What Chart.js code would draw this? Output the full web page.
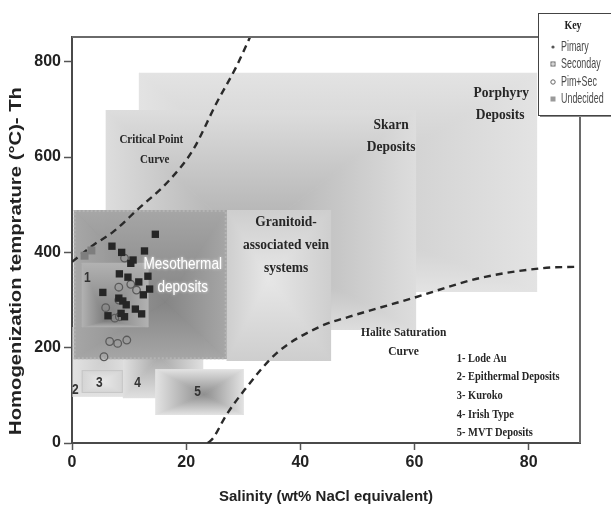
<!DOCTYPE html>
<html><head><meta charset="utf-8">
<script src="https://cdn.jsdelivr.net/npm/chart.js@4/dist/chart.umd.min.js"></script>
<style>html,body{margin:0;padding:0;background:#fff;overflow:hidden}#w{width:611px;height:511px;position:relative}</style>
</head><body><div id="w"><canvas id="c" width="611" height="511"></canvas></div>
<script>
// ---- axis ticks ----
const xTicks = [0, 20, 40, 60, 80];
const yTicks = [0, 200, 400, 600, 800];

// ---- deposit fields (salinity wt% NaCl, Th °C) ----
const depositNames = ['Porphyry', 'Skarn', 'Granitoid', 'Epithermal', 'Irish', 'Kuroko', 'Mesothermal', 'LodeAu', 'MVT'];
const salMin = [11.7, 5.9, 27.1, 0.1, 8.9, 1.7, 0.3, 1.7, 14.6];
const salMax = [81.5, 60.3, 45.4, 10.4, 23.0, 8.9, 27.1, 13.4, 30.1];
const thMin  = [317, 237, 172, 97, 94, 105, 176, 243, 59];
const thMax  = [777, 699, 489, 243, 241, 153, 489, 378, 155];

// ---- curves ----
const criticalSal = [0, 3.7, 7.2, 11.4, 17.1, 21.2, 25.3, 28.8, 31.2];
const criticalTh  = [380, 415, 443, 489, 552, 615, 713, 790, 852];
const haliteSal = [23.8, 24.7, 27, 30.2, 35.8, 43.4, 48.6, 59.7, 71.4, 82.5, 89];
const haliteTh  = [0, 10, 58, 111, 188, 244, 265, 304, 346, 367, 370];

// ---- fluid inclusion data ----
const primarySal = [14.6, 7.0, 8.7, 12.7, 10.3, 10.7, 8.3, 9.8, 13.3, 11.7, 12.5, 13.6, 5.4, 11.1, 12.2, 8.2, 8.9, 9.5, 9.2, 8.6, 6.3];
const primaryTh  = [438, 413, 400, 403, 377, 384, 355, 348, 350, 338, 311, 323, 316, 281, 271, 304, 298, 290, 265, 272, 267];
const primSecSal = [9.2, 8.2, 10.3, 11.3, 5.9, 8.2, 7.5, 8.3, 6.6, 8.0, 9.6, 5.6];
const primSecTh  = [388, 327, 333, 321, 284, 300, 262, 265, 213, 209, 216, 181];
const undecidedSal = [2.2, 3.4];
const undecidedTh  = [393, 404];

// ---- legend & annotation text ----
const legendTitle = 'Key';
const legendLabels = ['Pimary', 'Seconday', 'Pim+Sec', 'Undecided'];
const typeList = ['1- Lode Au', '2- Epithermal Deposits', '3- Kuroko', '4- Irish Type', '5- MVT Deposits'];

const zip = (a, b) => a.map((v, i) => ({x: v, y: b[i]}));

const boxStyle = {
  Porphyry:   {edge:'#e3e3e3', center:'#c6c6c6', fx:0.42, fy:0.62},
  Skarn:      {edge:'#dddddd', center:'#acacac', fx:0.45, fy:0.6},
  Granitoid:  {edge:'#cecece', center:'#e7e7e7', fx:0.4, fy:0.45},
  Epithermal: {edge:'#e2e2e2', center:'#cfcfcf', fx:0.5, fy:0.5},
  Irish:      {edge:'#e0e0e0', center:'#a8a8a8', fx:0.45, fy:0.4},
  Kuroko:     {edge:'#d4d4d4', center:'#e8e8e8', fx:0.5, fy:0.5, border:'#c6c6c6'},
  Mesothermal:{edge:'#a6a6a6', center:'#828282', fx:0.6, fy:0.62, alpha:0.92},
  LodeAu:     {edge:'#b2b2b2', center:'#7c7c7c', fx:0.35, fy:0.9},
  MVT:        {edge:'#e3e3e3', center:'#8e8e8e', fx:0.55, fy:0.55}
};

function pyramid(ctx, x0, y0, x1, y1, st) {
  const cx = x0 + (x1 - x0) * st.fx, cy = y0 + (y1 - y0) * st.fy;
  ctx.save();
  ctx.globalAlpha = st.alpha || 1;
  ctx.beginPath(); ctx.rect(x0, y0, x1 - x0, y1 - y0); ctx.clip();
  ctx.fillStyle = st.edge; ctx.fillRect(x0, y0, x1 - x0, y1 - y0);
  const tri = (p, gx0, gy0, gx1, gy1) => {
    const g = ctx.createLinearGradient(gx0, gy0, gx1, gy1);
    g.addColorStop(0, st.edge); g.addColorStop(1, st.center);
    ctx.fillStyle = g; ctx.strokeStyle = g; ctx.lineWidth = 0.7;
    ctx.beginPath(); ctx.moveTo(p[0][0], p[0][1]); ctx.lineTo(p[1][0], p[1][1]); ctx.lineTo(p[2][0], p[2][1]); ctx.closePath();
    ctx.fill(); ctx.stroke();
  };
  tri([[x0, y0], [x1, y0], [cx, cy]], 0, y0, 0, cy);
  tri([[x0, y1], [x1, y1], [cx, cy]], 0, y1, 0, cy);
  tri([[x0, y0], [x0, y1], [cx, cy]], x0, 0, cx, 0);
  tri([[x1, y0], [x1, y1], [cx, cy]], x1, 0, cx, 0);
  ctx.restore();
}

function txt(ctx, s, x, y, font, color, align, sx, sy) {
  ctx.save();
  ctx.translate(x, y); ctx.scale(sx || 1, sy || 1);
  ctx.font = font; ctx.fillStyle = color; ctx.textAlign = align || 'center'; ctx.textBaseline = 'middle';
  ctx.fillText(s, 0, 0);
  ctx.restore();
}

const serifB = (px) => 'bold ' + px + 'px "Liberation Serif", "DejaVu Serif", serif';
const sansB = (px) => 'bold ' + px + 'px "Liberation Sans", Arial, sans-serif';
const sans = (px) => px + 'px "Liberation Sans", Arial, sans-serif';

// annotation positions in data units
const labelSpecs = [
  {t:'Critical Point', x:13.9, y:636, f:serifB(11), sy:1.15},
  {t:'Curve', x:14.5, y:594, f:serifB(11), sy:1.15},
  {t:'Skarn', x:55.9, y:667, f:serifB(13.5), sy:1.15},
  {t:'Deposits', x:55.9, y:622, f:serifB(13.5), sy:1.15},
  {t:'Porphyry', x:75.2, y:734, f:serifB(13.5), sy:1.15},
  {t:'Deposits', x:75.0, y:688, f:serifB(13.5), sy:1.15},
  {t:'Granitoid-', x:37.5, y:464, f:serifB(13.5), sy:1.15},
  {t:'associated vein', x:37.5, y:415, f:serifB(13.5), sy:1.15},
  {t:'systems', x:37.5, y:367, f:serifB(13.5), sy:1.15},
  {t:'Halite Saturation', x:58.1, y:231, f:serifB(11.5), sy:1.15},
  {t:'Curve', x:58.1, y:191, f:serifB(11.5), sy:1.15},
  {t:'1', x:2.7, y:346, f:sansB(12), sy:1.2, c:'#333'},
  {t:'2', x:0.6, y:111, f:sansB(12), sy:1.2, c:'#333'},
  {t:'3', x:4.8, y:126, f:sansB(12), sy:1.2, c:'#333'},
  {t:'4', x:11.5, y:126, f:sansB(12), sy:1.2, c:'#333'},
  {t:'5', x:22.0, y:107, f:sansB(12), sy:1.2, c:'#333'}
];
const listY = [178, 139, 99, 59, 21];

const drawPlugin = {
  id: 'fields',
  beforeDatasetsDraw(chart) {
    const ctx = chart.ctx, xs = chart.scales.x, ys = chart.scales.y, a = chart.chartArea;
    ctx.save();
    ctx.beginPath(); ctx.rect(a.left, a.top, a.right - a.left, a.bottom - a.top); ctx.clip();
    depositNames.forEach((n, i) => {
      const x0 = xs.getPixelForValue(salMin[i]), x1 = xs.getPixelForValue(salMax[i]);
      const y0 = ys.getPixelForValue(thMax[i]), y1 = ys.getPixelForValue(thMin[i]);
      const st = boxStyle[n];
      pyramid(ctx, x0, y0, x1, y1, st);
      if (st.border) { ctx.strokeStyle = st.border; ctx.lineWidth = 1; ctx.strokeRect(x0 + 0.5, y0 + 0.5, x1 - x0 - 1, y1 - y0 - 1); }
    });
    const m = depositNames.indexOf('Mesothermal');
    const mx0 = xs.getPixelForValue(salMin[m]), mx1 = xs.getPixelForValue(salMax[m]);
    const my0 = ys.getPixelForValue(thMax[m]), my1 = ys.getPixelForValue(thMin[m]);
    ctx.strokeStyle = '#b4b4b4'; ctx.lineWidth = 2; ctx.setLineDash([2, 2]);
    ctx.strokeRect(mx0 + 1, my0 + 1, mx1 - mx0 - 2, my1 - my0 - 2);
    ctx.setLineDash([]);
    ctx.restore();
  },
  afterDatasetsDraw(chart) {
    const ctx = chart.ctx, xs = chart.scales.x, ys = chart.scales.y, a = chart.chartArea;
    labelSpecs.forEach(s => txt(ctx, s.t, xs.getPixelForValue(s.x), ys.getPixelForValue(s.y), s.f, s.c || '#262626', 'center', s.sx || 1, s.sy || 1));
    ctx.save(); ctx.shadowColor = 'rgba(255,255,255,0.8)'; ctx.shadowBlur = 3;
    txt(ctx, 'Mesothermal', xs.getPixelForValue(19.4), ys.getPixelForValue(374), sans(14), '#ffffff', 'center', 0.97, 1.2);
    txt(ctx, 'deposits', xs.getPixelForValue(19.4), ys.getPixelForValue(327), sans(14), '#ffffff', 'center', 0.97, 1.2);
    ctx.restore();
    typeList.forEach((t, i) => txt(ctx, t, xs.getPixelForValue(67.4), ys.getPixelForValue(listY[i]), serifB(11), '#262626', 'left', 0.95, 1.2));
    ctx.save();
    ctx.strokeStyle = '#6a6a6a'; ctx.lineWidth = 2;
    ctx.beginPath(); ctx.moveTo(a.left, a.top); ctx.lineTo(a.right, a.top); ctx.moveTo(a.right, a.top); ctx.lineTo(a.right, a.bottom); ctx.stroke();
    ctx.restore();
    const lx = 538, ly = 13, lw = 80, lh = 102;
    ctx.save();
    ctx.fillStyle = '#8a8a8a'; ctx.fillRect(lx + 2, ly + 2, lw, lh);
    ctx.fillStyle = '#ffffff'; ctx.fillRect(lx, ly, lw, lh);
    ctx.strokeStyle = '#444'; ctx.lineWidth = 1; ctx.strokeRect(lx + 0.5, ly + 0.5, lw, lh);
    txt(ctx, legendTitle, 573, 26, serifB(10), '#222', 'center', 1, 1.2);
    const rowY = [47, 64, 82, 99];
    legendLabels.forEach((l, i) => {
      const y = rowY[i], mx = 553;
      ctx.fillStyle = '#555'; ctx.strokeStyle = '#666'; ctx.lineWidth = 1;
      if (i === 0) { ctx.beginPath(); ctx.arc(mx, y, 1.6, 0, Math.PI * 2); ctx.fill(); }
      else if (i === 1) { ctx.strokeRect(mx - 2, y - 2, 4, 4); ctx.fillRect(mx - 0.5, y - 0.5, 1, 1); }
      else if (i === 2) { ctx.beginPath(); ctx.arc(mx, y, 2.2, 0, Math.PI * 2); ctx.stroke(); }
      else { ctx.fillStyle = '#9a9a9a'; ctx.fillRect(mx - 2.5, y - 2.5, 5, 5); }
      txt(ctx, l, 561, y, sans(10.5), '#4a4a4a', 'left', 0.85, 1.35);
    });
    ctx.restore();
    ctx.save();
    ctx.translate(17, 261); ctx.rotate(-Math.PI / 2);
    ctx.font = sansB(16); ctx.fillStyle = '#222'; ctx.textAlign = 'center'; ctx.textBaseline = 'middle';
    const yt = 'Homogenization temprature (\u00B0C)- Th';
    const w = ctx.measureText(yt).width;
    ctx.scale(348 / w, 1);
    ctx.fillText(yt, 0, 0);
    ctx.restore();
  }
};

new Chart(document.getElementById('c'), {
  type: 'scatter',
  data: {
    datasets: [
      {label: 'Pimary', data: zip(primarySal, primaryTh), pointStyle: 'rect', pointRadius: 5.2, backgroundColor: '#262626', borderColor: '#262626', borderWidth: 0, order: 1},
      {label: 'Pim+Sec', data: zip(primSecSal, primSecTh), pointStyle: 'circle', pointRadius: 3.8, backgroundColor: 'rgba(0,0,0,0)', borderColor: '#5a5a5a', borderWidth: 1.3, order: 2},
      {label: 'Undecided', data: zip(undecidedSal, undecidedTh), pointStyle: 'rect', pointRadius: 5.6, backgroundColor: '#7e7e7e', borderColor: '#7e7e7e', borderWidth: 0, order: 3},
      {label: 'Critical Point Curve', type: 'line', data: zip(criticalSal, criticalTh), borderColor: '#2a2a2a', borderWidth: 2.4, borderDash: [7, 5], pointRadius: 0, fill: false, cubicInterpolationMode: 'monotone', order: 4},
      {label: 'Halite Saturation Curve', type: 'line', data: zip(haliteSal, haliteTh), borderColor: '#2a2a2a', borderWidth: 2.4, borderDash: [7, 5], pointRadius: 0, fill: false, cubicInterpolationMode: 'monotone', order: 5}
    ]
  },
  options: {
    responsive: false, animation: false, devicePixelRatio: 1,
    layout: {padding: {top: 37, right: 31, left: 0, bottom: 0}},
    plugins: {legend: {display: false}, tooltip: {enabled: false}},
    scales: {
      x: {
        type: 'linear', min: 0, max: 89, position: 'bottom',
        afterBuildTicks: s => { s.ticks = xTicks.map(v => ({value: v})); },
        afterFit: s => { s.height = 68; },
        grid: {drawOnChartArea: false, drawTicks: true, tickLength: 7, color: '#555', tickWidth: 1.5},
        border: {display: true, color: '#4a4a4a', width: 2},
        ticks: {font: {family: '"Liberation Sans", Arial, sans-serif', weight: 'bold', size: 16}, color: '#222', padding: 3, maxRotation: 0},
        title: {display: true, text: 'Salinity (wt% NaCl equivalent)', font: {family: '"Liberation Sans", Arial, sans-serif', weight: 'bold', size: 15}, color: '#222', padding: {top: 0, bottom: 5}}
      },
      y: {
        type: 'linear', min: 0, max: 852,
        afterBuildTicks: s => { s.ticks = yTicks.map(v => ({value: v})); },
        afterFit: s => { s.width = 72; },
        grid: {drawOnChartArea: false, drawTicks: true, tickLength: 8, color: '#555', tickWidth: 1.5},
        border: {display: true, color: '#4a4a4a', width: 2},
        ticks: {font: {family: '"Liberation Sans", Arial, sans-serif', weight: 'bold', size: 16}, color: '#222', padding: 3}
      }
    }
  },
  plugins: [drawPlugin]
});
</script></body></html>
